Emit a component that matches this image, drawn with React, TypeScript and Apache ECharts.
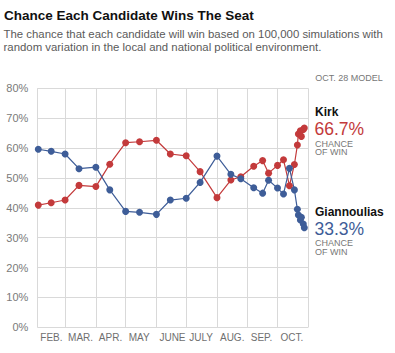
import React, { useEffect, useRef } from "react";
import * as echarts from "echarts";

const FONT = "'Liberation Sans', Arial, Helvetica, sans-serif";
const RED = "#c33a3b";
const BLUE = "#3e5d98";

// Month boundaries (day offsets from Feb 1, 2010) and month labels
const monthStarts = [0, 28, 59, 89, 120, 150, 181, 212, 242, 273];
const monthLabels = ["FEB.", "MAR.", "APR.", "MAY", "JUNE", "JULY", "AUG.", "SEP.", "OCT."];

// Model run dates (2010)
const dates = [
  "2010-02-02", "2010-02-15", "2010-03-01", "2010-03-15", "2010-04-01", "2010-04-15",
  "2010-05-01", "2010-05-15", "2010-06-01", "2010-06-15", "2010-07-01", "2010-07-15",
  "2010-08-01", "2010-08-15", "2010-08-25", "2010-09-07", "2010-09-16", "2010-09-22",
  "2010-10-01", "2010-10-07", "2010-10-13", "2010-10-18", "2010-10-21", "2010-10-22",
  "2010-10-24", "2010-10-25", "2010-10-27", "2010-10-28",
];

// Chance of win (%)
const kirk = [
  40.9, 41.7, 42.6, 47.5, 47.1, 54.6,
  61.8, 62.1, 62.6, 58.0, 57.4, 52.1,
  43.4, 49.3, 50.4, 53.9, 55.8, 51.6,
  54.2, 56.1, 47.4, 54.5, 61.0, 64.7,
  65.8, 63.9, 66.2, 66.7,
];
const giannoulias = [
  59.6, 58.9, 58.0, 53.1, 53.6, 46.0,
  38.8, 38.5, 37.8, 42.6, 43.2, 48.5,
  57.3, 51.2, 49.7, 46.7, 44.9, 49.2,
  46.6, 44.6, 53.2, 46.0, 39.5, 37.6,
  35.9, 36.8, 34.6, 33.3,
];

const yTicks = [0, 10, 20, 30, 40, 50, 60, 70, 80];

const dayOffset = (d: string) =>
  Math.round((Date.parse(d + "T00:00:00Z") - Date.parse("2010-02-01T00:00:00Z")) / 86400000);

export default function App() {
  const ref = useRef<HTMLDivElement>(null);
  useEffect(() => {
    document.body.style.margin = "0";
    if (!ref.current) return;
    const chart = echarts.init(ref.current, null, { renderer: "svg" });
    const days = dates.map(dayOffset);
    const mk = (vals: number[]) => vals.map((v, i) => [days[i], v]);
    const txt = (text: string, x: number, y: number, font: string, fill: string, align = "left") => ({
      type: "text",
      x,
      y,
      silent: true,
      style: { text, font, fill, textAlign: align, textVerticalAlign: "middle" },
    });
    chart.setOption({
      animation: false,
      grid: { left: 37.3, top: 88.3, right: 86.7, bottom: 25.7, containLabel: false },
      xAxis: {
        type: "value",
        min: monthStarts[0],
        max: monthStarts[monthStarts.length - 1],
        axisLine: { show: false },
        axisTick: { show: false, customValues: monthStarts },
        splitLine: { show: true, lineStyle: { color: "#d9d9d9", width: 1 } },
        axisLabel: {
          customValues: monthStarts.slice(0, monthLabels.length),
          formatter: (v: number) => monthLabels[monthStarts.indexOf(v)] || "",
          align: "left",
          padding: [0, 0, 0, 3],
          margin: 5,
          color: "#6f6f6f",
          fontSize: 10,
          fontFamily: FONT,
        },
      },
      yAxis: {
        type: "value",
        min: yTicks[0],
        max: yTicks[yTicks.length - 1],
        interval: 10,
        axisLine: { show: false },
        axisTick: { show: false },
        splitLine: { show: true, lineStyle: { color: "#d9d9d9", width: 1 } },
        axisLabel: {
          formatter: "{value}%",
          color: "#7a7a7a",
          fontSize: 11,
          fontFamily: FONT,
          margin: 9,
        },
      },
      series: [
        {
          name: "Kirk",
          type: "line",
          data: mk(kirk),
          symbol: "circle",
          symbolSize: 7,
          showSymbol: true,
          lineStyle: { color: RED, width: 1.2 },
          itemStyle: { color: RED },
        },
        {
          name: "Giannoulias",
          type: "line",
          data: mk(giannoulias),
          symbol: "circle",
          symbolSize: 7,
          showSymbol: true,
          lineStyle: { color: BLUE, width: 1.2 },
          itemStyle: { color: BLUE },
        },
      ],
      graphic: [
        txt("Chance Each Candidate Wins The Seat", 4, 15, `bold 13.5px ${FONT}`, "#111"),
        txt("The chance that each candidate will win based on 100,000 simulations with", 3.5, 34, `11.4px ${FONT}`, "#5a5a5a"),
        txt("random variation in the local and national political environment.", 3.5, 46.5, `11.4px ${FONT}`, "#5a5a5a"),
        txt("OCT. 28 MODEL", 382.7, 77.7, `9px ${FONT}`, "#777", "right"),
        txt("Kirk", 315, 112.3, `bold 12px ${FONT}`, "#111"),
        txt("66.7%", 314.5, 129.3, `17.5px ${FONT}`, RED),
        txt("CHANCE", 315, 143.6, `9px ${FONT}`, "#777"),
        txt("OF WIN", 315, 152.2, `9px ${FONT}`, "#777"),
        txt("Giannoulias", 315, 211.7, `bold 12px ${FONT}`, "#111"),
        txt("33.3%", 314.5, 229.0, `17.5px ${FONT}`, BLUE),
        txt("CHANCE", 315, 243.0, `9px ${FONT}`, "#777"),
        txt("OF WIN", 315, 251.6, `9px ${FONT}`, "#777"),
      ],
    });
    return () => chart.dispose();
  }, []);
  return <div ref={ref} style={{ width: 395, height: 353 }} />;
}
